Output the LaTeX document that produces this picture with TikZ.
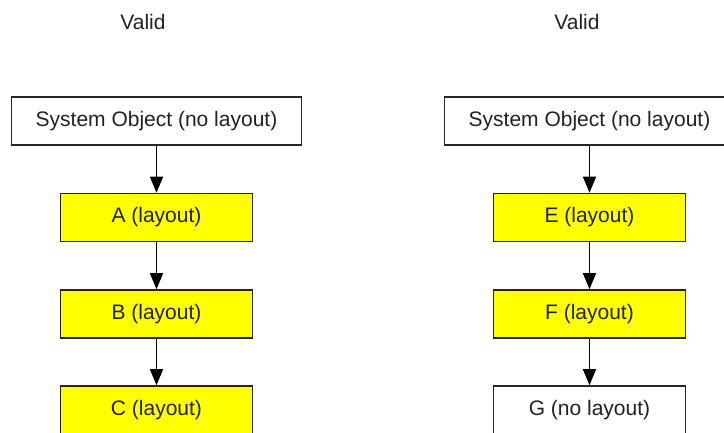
\documentclass[tikz,border=0pt]{standalone}
\usepackage{fontspec}
\setmainfont{Liberation Sans}
\usetikzlibrary{arrows.meta}
\definecolor{boxyellow}{HTML}{FFFF00}
\definecolor{txt}{HTML}{222222}
\tikzset{
  obj/.style={draw=black!85, line width=1.6pt, fill=white, minimum height=48pt,
    inner sep=0pt, text=txt, font=\fontsize{21}{25}\selectfont},
  sysobj/.style={obj, minimum width=290pt},
  laybox/.style={obj, minimum width=192pt, fill=boxyellow},
  plainbox/.style={obj, minimum width=192pt},
  conn/.style={draw=black, line width=1.5pt, -{Triangle[width=13pt,length=16pt]}},
  title/.style={text=txt, font=\fontsize{21}{25}\selectfont}
}
\begin{document}
\begin{tikzpicture}[x=1pt,y=-1pt]
\useasboundingbox (0,0) rectangle (724,432);
\clip (0,0) rectangle (724,432);
\fill[white] (0,0) rectangle (724,432);
\node[title] (v1) at (143,22) {Valid};
\node[title] (v2) at (577,22) {Valid};
\node[sysobj] (s1) at (156.5,121) {System Object (no layout)};
\node[laybox] (a) at (156.5,217.5) {A (layout)};
\node[laybox] (b) at (156.5,314) {B (layout)};
\node[laybox] (c) at (156.5,410) {C (layout)};
\node[sysobj] (s2) at (589.5,121) {System Object (no layout)};
\node[laybox] (e) at (589.5,217.5) {E (layout)};
\node[laybox] (f) at (589.5,314) {F (layout)};
\node[plainbox] (g) at (589.5,410) {G (no layout)};
\draw[conn] (s1.south) -- (a.north);
\draw[conn] (a) -- (b);
\draw[conn] (b) -- (c);
\draw[conn] (s2.south) -- (e.north);
\draw[conn] (e) -- (f);
\draw[conn] (f) -- (g);
\end{tikzpicture}
\end{document}
